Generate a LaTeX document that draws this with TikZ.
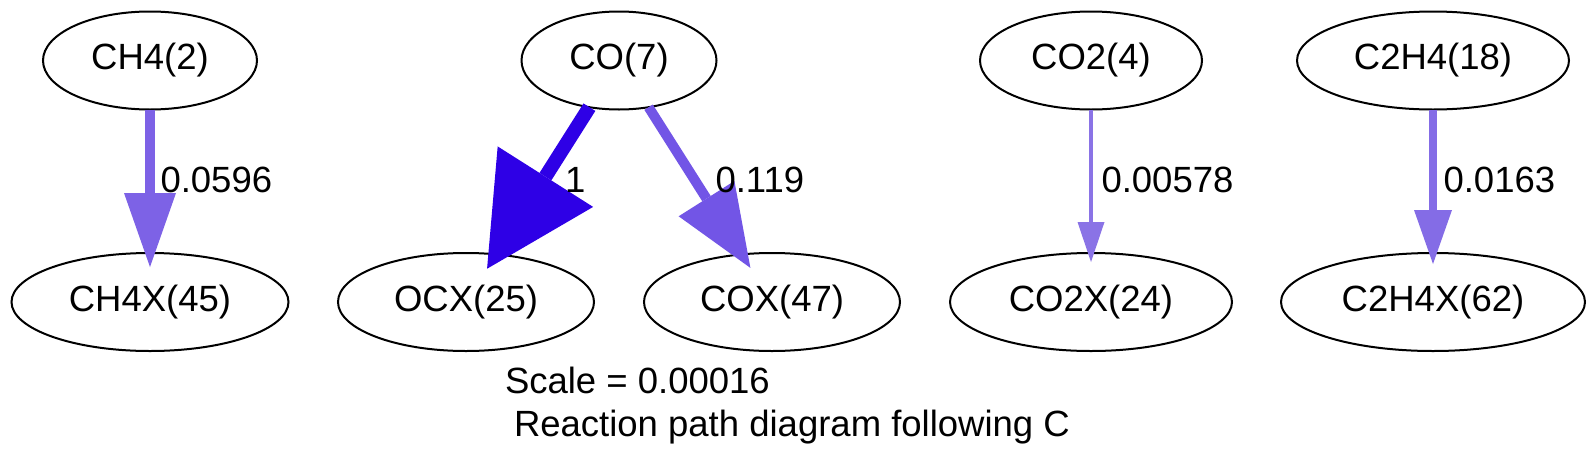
\documentclass[tikz,border=0pt]{standalone}
\usepackage{fontspec}
\setmainfont{Liberation Sans}
\usetikzlibrary{arrows.meta,shapes.geometric}
\definecolor{cOCX}{RGB}{46,0,230}
\definecolor{cCOX}{RGB}{114,85,230}
\definecolor{cCHF}{RGB}{125,98,230}
\definecolor{cCOT}{RGB}{138,115,230}
\definecolor{cCTH}{RGB}{132,108,230}
\begin{document}
\begin{tikzpicture}[x=1pt,y=-1pt,
  sp/.style={ellipse,draw=black,line width=2pt,inner sep=0pt,outer sep=0pt,
    minimum height=98pt,font=\fontsize{36.5}{44}\selectfont},
  lbl/.style={anchor=base west,inner sep=0pt,outer sep=0pt,font=\fontsize{36.5}{44}\selectfont},
  flux/.style={line cap=butt}
]
\useasboundingbox (0,0) rectangle (1596,469);
\fill[white] (0,0) rectangle (1596,469);
% species
\node[sp,minimum width=214pt] (ch4) at (150,60.5) {CH4(2)};
\node[sp,minimum width=195pt] (co) at (619,60.5) {CO(7)};
\node[sp,minimum width=222pt] (co2) at (1091,60.5) {CO2(4)};
\node[sp,minimum width=272pt] (c2h4) at (1433,60.5) {C2H4(18)};
\node[sp,minimum width=277pt] (ch4x) at (150,302) {CH4X(45)};
\node[sp,minimum width=256pt] (ocx) at (466,302) {OCX(25)};
\node[sp,minimum width=256pt] (cox) at (772,302) {COX(47)};
\node[sp,minimum width=282pt] (co2x) at (1091,302) {CO2X(24)};
\node[sp,minimum width=304pt] (c2h4x) at (1433,302) {C2H4X(62)};
% fluxes
\draw[flux,line width=10pt,color=cCHF,shorten >=-14pt,
  -{Triangle[length=74pt,width=52pt,line width=0pt]}] (ch4) -- (ch4x);
\draw[flux,line width=14pt,color=cOCX,shorten >=-17pt,
  -{Triangle[length=109pt,width=113pt,line width=0pt]}] (co) -- (ocx);
\draw[flux,line width=10pt,color=cCOX,shorten >=-16pt,
  -{Triangle[length=82pt,width=66pt,line width=0pt]}] (co) -- (cox);
\draw[flux,line width=4.5pt,color=cCOT,shorten >=-9pt,
  -{Triangle[length=40pt,width=27pt,line width=0pt]}] (co2) -- (co2x);
\draw[flux,line width=8pt,color=cCTH,shorten >=-11pt,
  -{Triangle[length=54pt,width=38pt,line width=0pt]}] (c2h4) -- (c2h4x);
% labels
\node[lbl] (l1) at (160.5,192) {0.0596};
\node[lbl] (l2) at (565,192) {1};
\node[lbl] (l3) at (715.5,192) {0.119};
\node[lbl] (l4) at (1101.5,192) {0.00578};
\node[lbl] (l5) at (1443.5,192) {0.0163};
\node[lbl] (scale) at (505,393) {Scale = 0.00016};
\node[lbl] (title) at (514,436) {Reaction path diagram following C};
\end{tikzpicture}
\end{document}
